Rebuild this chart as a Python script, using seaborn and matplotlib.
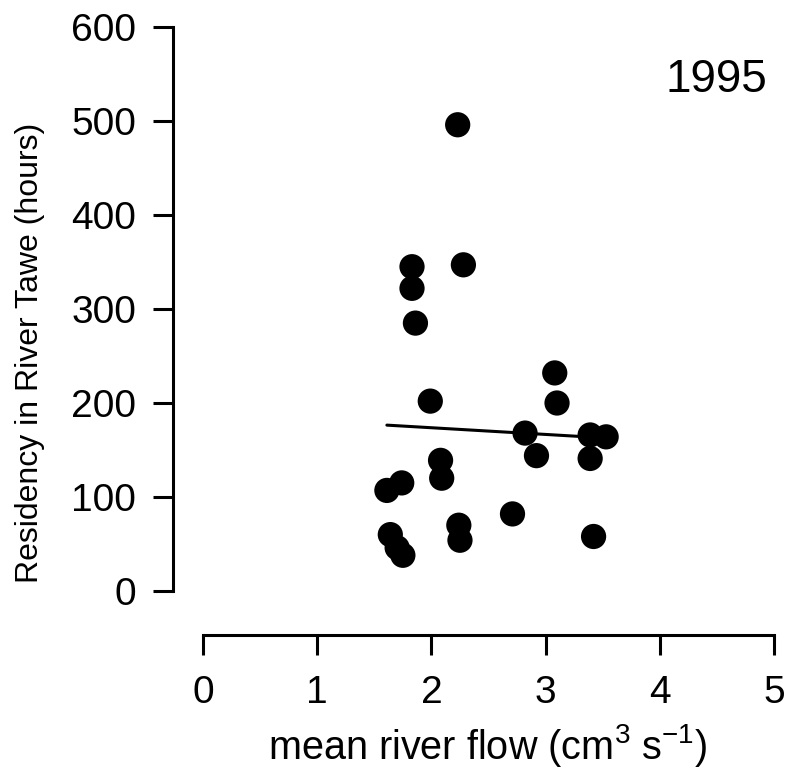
import matplotlib
matplotlib.use("Agg")
import matplotlib.pyplot as plt
import seaborn as sns
import pandas as pd

sns.set_style("white")
plt.rcParams['font.family'] = ['Liberation Sans', 'DejaVu Sans']
plt.rcParams['text.color'] = 'black'
plt.rcParams['axes.labelcolor'] = 'black'
plt.rcParams['mathtext.fontset'] = 'custom'
plt.rcParams['mathtext.rm'] = 'Liberation Sans'
plt.rcParams['mathtext.default'] = 'regular'

flow = [2.23, 1.83, 1.83, 2.28, 1.86, 1.99, 2.08, 2.09, 1.61, 1.74,
        1.64, 1.70, 1.75, 2.24, 2.25, 3.08, 3.10, 2.82, 2.92, 3.39,
        3.53, 3.39, 2.71, 3.42]
residency = [496, 345, 322, 347, 285, 202, 139, 120, 107, 115,
             60, 46, 38, 70, 54, 232, 200, 168, 144, 166,
             164, 141, 82, 58]
year_label = "1995"
xticks = [0, 1, 2, 3, 4, 5]
yticks = [0, 100, 200, 300, 400, 500, 600]

df = pd.DataFrame({"flow": flow, "residency": residency})

W, H = 787, 781
fig = plt.figure(figsize=(W / 100, H / 100), dpi=100)
left_px, right_px, top_px, bot_px = 173, 774, 27, 635
ax = fig.add_axes([left_px / W, (H - bot_px) / H,
                   (right_px - left_px) / W, (bot_px - top_px) / H])

sns.regplot(data=df, x="flow", y="residency", ax=ax, ci=None,
            scatter_kws=dict(s=330, color="black", edgecolor="none", alpha=1, zorder=3),
            line_kws=dict(color="black", linewidth=2.2, zorder=2))

ax.set_xlim(-0.263, 5.0)
ax.set_ylim(-46.8, 600)
ax.spines['top'].set_visible(False)
ax.spines['right'].set_visible(False)
for s in ['left', 'bottom']:
    ax.spines[s].set_linewidth(2.2)
    ax.spines[s].set_color('black')
ax.spines['left'].set_bounds(0, 600)
ax.spines['bottom'].set_bounds(0, 5)
ax.set_xticks(xticks)
ax.set_yticks(yticks)
ax.tick_params(axis='both', direction='out', length=14.5, width=2.2,
               color='black', labelsize=28, labelcolor='black', pad=12)
ax.tick_params(axis='y', left=True)
ax.tick_params(axis='x', bottom=True, pad=14)

ax.set_xlabel("mean river flow (cm$^{3}$ s$^{-1}$)", fontsize=28.5, color='black')
ax.set_ylabel("Residency in River Tawe (hours)", fontsize=23, color='black')
ax.xaxis.set_label_coords((488 - left_px) / (right_px - left_px), -(722 - bot_px) / (bot_px - top_px))
ax.yaxis.set_label_coords(-(left_px - 45) / (right_px - left_px), (bot_px - 353) / (bot_px - top_px))

fig.text(716 / W, 1 - 80 / H, year_label, fontsize=33, ha='center', va='center', color='black')

fig.savefig("out.png", dpi=100)
